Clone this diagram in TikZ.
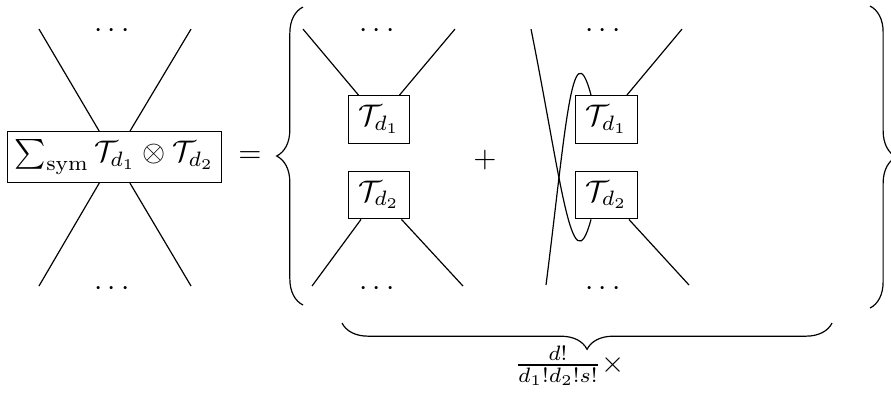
\documentclass[tikz,border=0pt]{standalone}
\usetikzlibrary{decorations.pathreplacing}
\tikzset{
  tbox/.style={draw, inner sep=3.33pt},
  curly/.style={decorate, decoration={brace, amplitude=0.31cm}},
  dots/.style={inner sep=0pt},
}

\begin{document}
\begin{tikzpicture}
  \useasboundingbox (0,0) rectangle (10.514,4.626);
  % symmetrised product with its four legs
  \node[tbox, inner sep=2.6pt] (s) at (1.351,2.773) {$\sum_{\mathrm{sym}}\mathcal{T}_{d_1}\otimes\mathcal{T}_{d_2}$};
  \node[dots] (su) at (1.322,4.257) {$\cdots$};
  \node[dots] (sd) at (1.322,1.223) {$\cdots$};
  \coordinate (s1) at (0.460,4.283);
  \coordinate (s2) at (2.254,4.283);
  \coordinate (s3) at (0.460,1.251);
  \coordinate (s4) at (2.254,1.251);
  \draw (s1) -- (s);
  \draw (s2) -- (s);
  \draw (s3) -- (s);
  \draw (s4) -- (s);
  \node (eq) at (2.95,2.773) {$=$};
  % first term: legs kept in place
  \node[tbox] (a1) at (4.472,3.216) {$\mathcal{T}_{d_1}$};
  \node[tbox] (a2) at (4.472,2.325) {$\mathcal{T}_{d_2}$};
  \node[dots] (au) at (4.449,4.257) {$\cdots$};
  \node[dots] (ad) at (4.449,1.223) {$\cdots$};
  \coordinate (a1l) at (3.575,4.283);
  \coordinate (a1r) at (5.369,4.283);
  \coordinate (a2l) at (3.682,1.251);
  \coordinate (a2r) at (5.463,1.251);
  \draw (a1l) -- (a1);
  \draw (a1r) -- (a1);
  \draw (a2l) -- (a2);
  \draw (a2r) -- (a2);
  \node (plus) at (5.723,2.738) {$+$};
  % second term: left legs swapped
  \node[tbox] (b1) at (7.157,3.216) {$\mathcal{T}_{d_1}$};
  \node[tbox] (b2) at (7.157,2.325) {$\mathcal{T}_{d_2}$};
  \node[dots] (bu) at (7.115,4.257) {$\cdots$};
  \node[dots] (bd) at (7.115,1.223) {$\cdots$};
  \coordinate (b1l) at (6.266,4.283);
  \coordinate (b1r) at (8.048,4.283);
  \coordinate (b2l) at (6.443,1.263);
  \coordinate (b2r) at (8.130,1.263);
  \draw (b1r) -- (b1);
  \draw (b2r) -- (b2);
  \draw ([xshift=-0.183cm]b1.north) .. controls (6.750,4.342) and (6.667,3.021) .. (b2l);
  \draw ([xshift=-0.183cm]b2.south) .. controls (6.750,1.204) and (6.620,2.513) .. (b1l);
  % braces
  \coordinate (lb1) at (3.575,1.027);
  \coordinate (lb2) at (3.575,4.543);
  \coordinate (rb1) at (10.266,4.555);
  \coordinate (rb2) at (10.266,0.991);
  \coordinate (bb1) at (9.818,0.814);
  \coordinate (bb2) at (4.036,0.814);
  \draw[curly] (lb1) -- (lb2);
  \draw[curly] (rb1) -- (rb2);
  \draw[curly] (bb1) -- (bb2);
  \node (k) at (6.72,0.307) {$\frac{d!}{d_1!d_2!s!}\times$};
\end{tikzpicture}
\end{document}
